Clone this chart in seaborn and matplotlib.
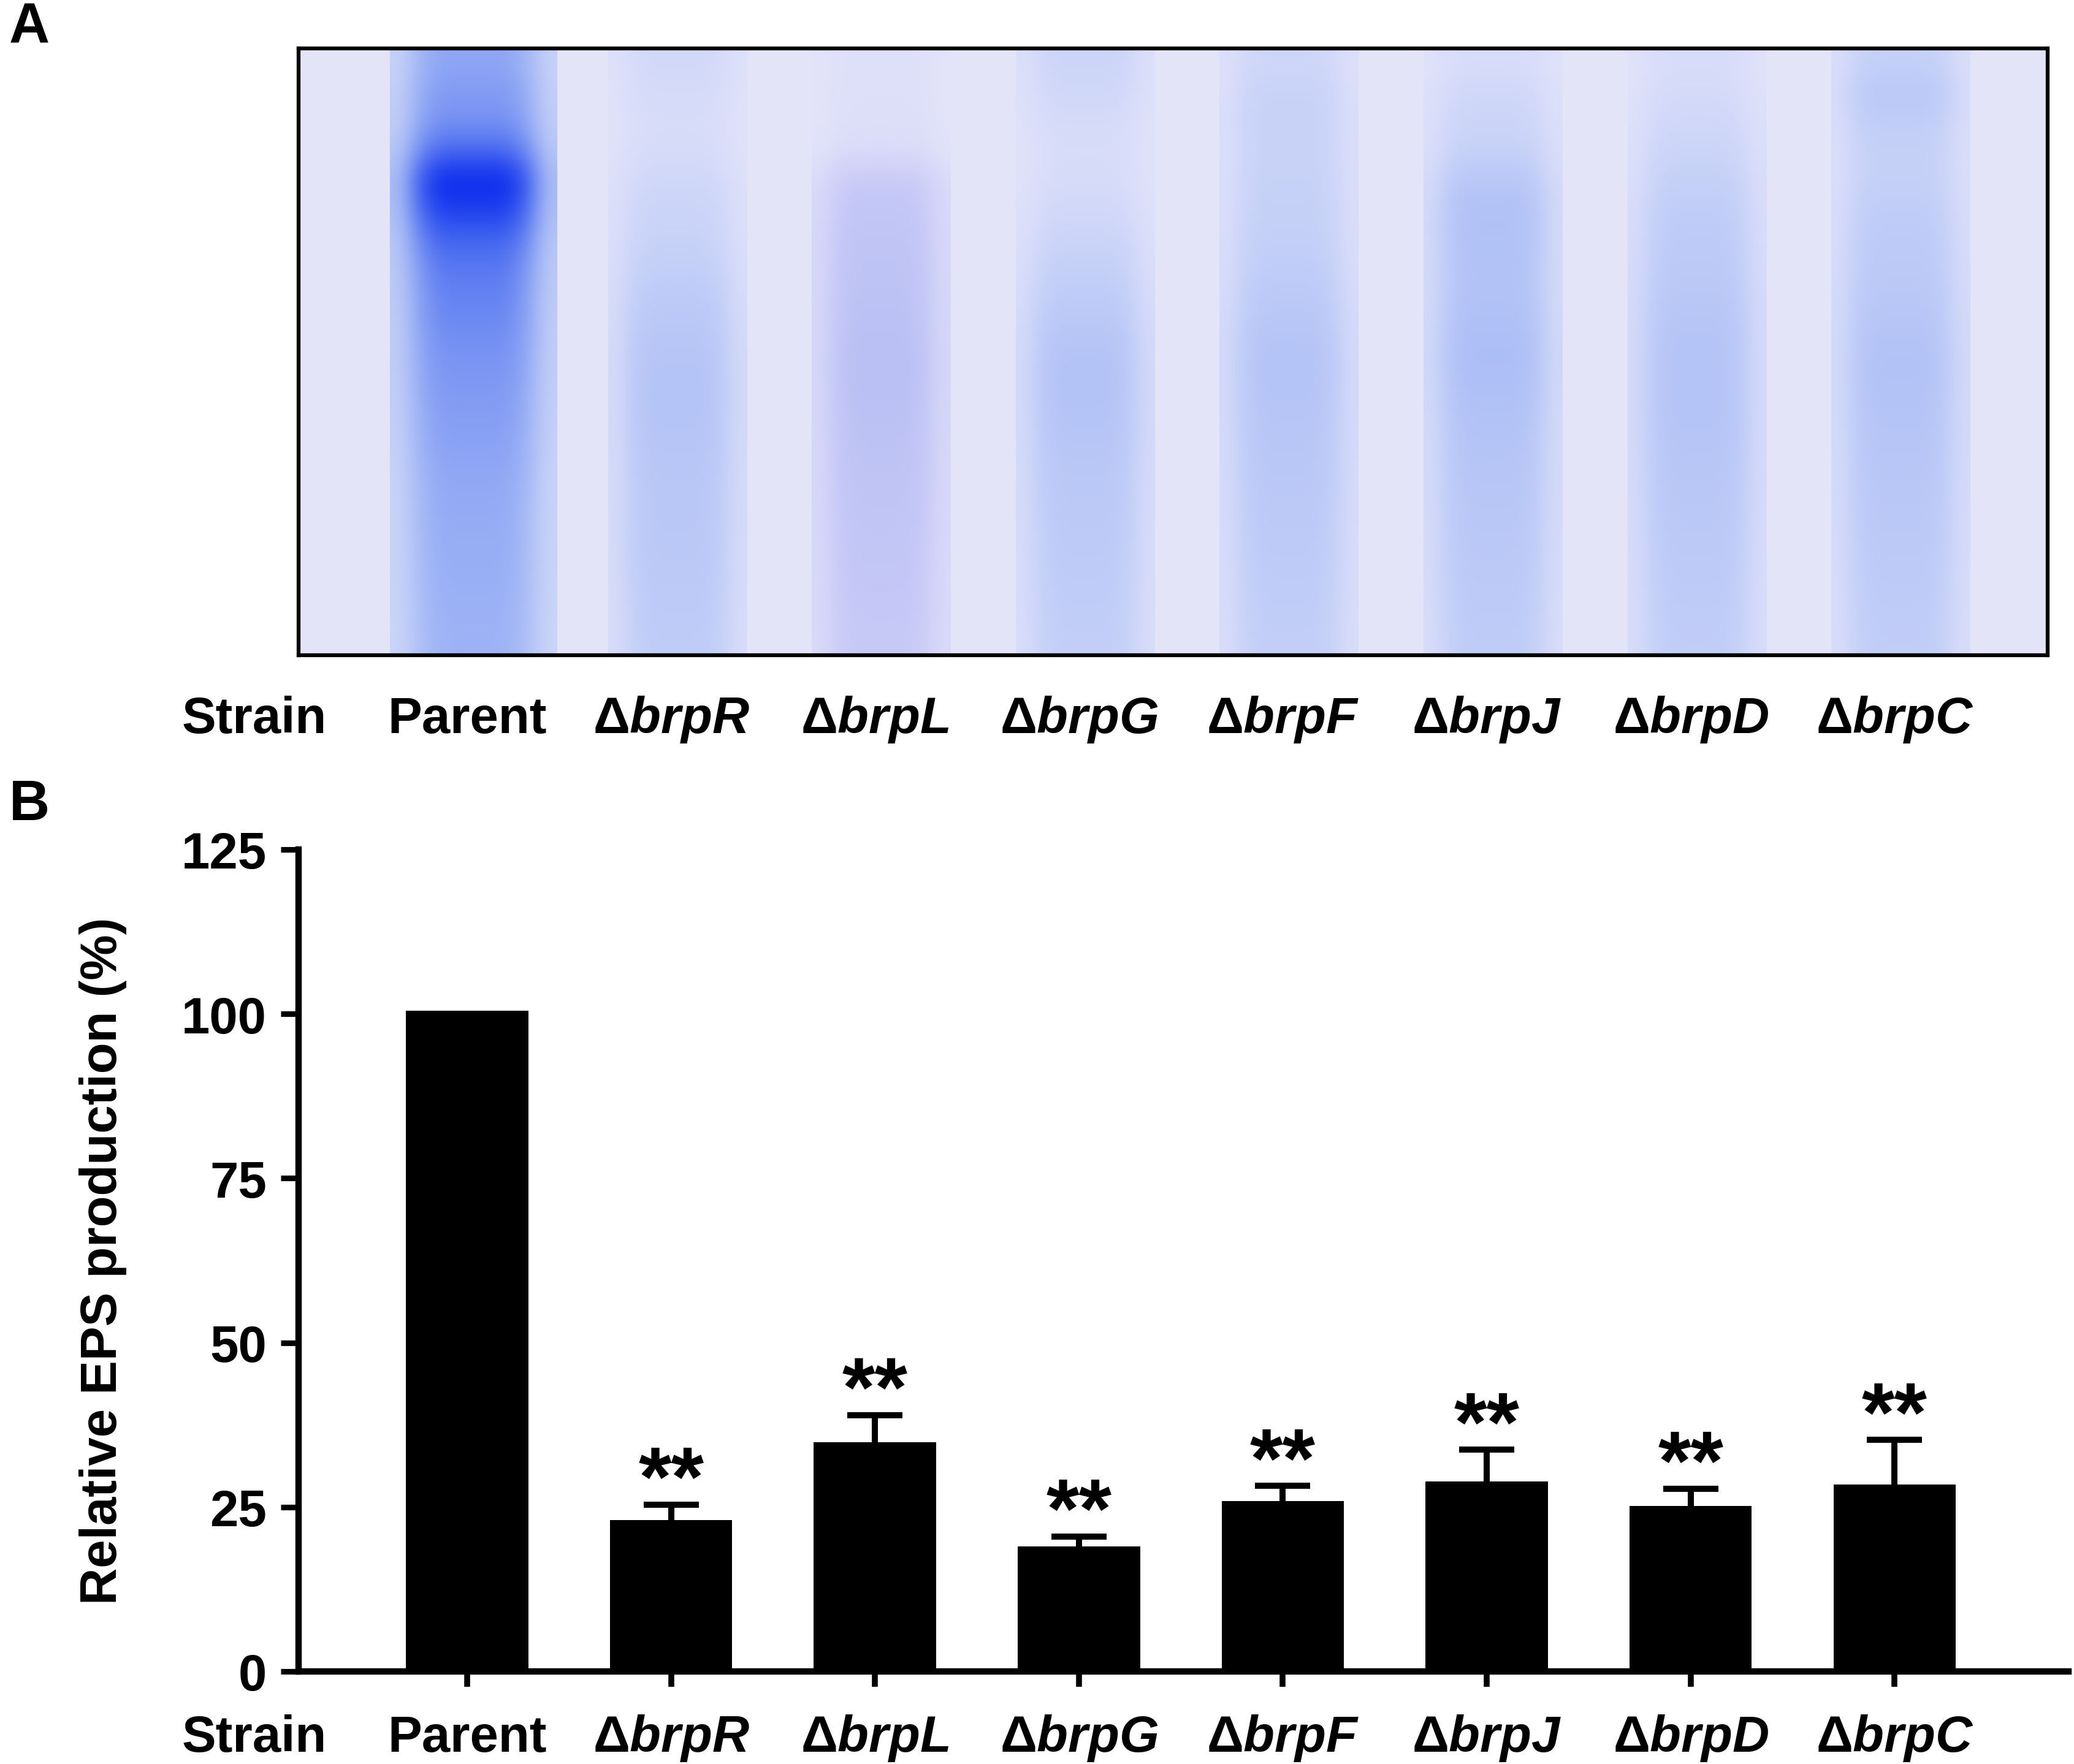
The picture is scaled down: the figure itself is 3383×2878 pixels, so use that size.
import numpy as np
import pandas as pd
import matplotlib
matplotlib.use("Agg")
import matplotlib.pyplot as plt
import seaborn as sns
from matplotlib.colors import LinearSegmentedColormap
from matplotlib.transforms import blended_transform_factory

# ---------------- data ----------------
strains = ["Parent", "ΔbrpR", "ΔbrpL", "ΔbrpG", "ΔbrpF", "ΔbrpJ", "ΔbrpD", "ΔbrpC"]
eps_mean = [100.5, 23.0, 34.9, 19.0, 25.9, 28.9, 25.2, 28.4]
eps_sem = [0.0, 2.4, 4.1, 1.5, 2.3, 4.8, 2.6, 6.8]
significance = ["", "**", "**", "**", "**", "**", "**", "**"]
y_ticks = [0, 25, 50, 75, 100, 125]
y_title = "Relative EPS production (%)"
row_title = "Strain"

# gel lane staining intensity (0 = background, 1 = darkest), top -> bottom of gel
gel_parent = [0.52, 0.58, 0.62, 0.76, 1.00, 0.93, 0.80, 0.72, 0.68, 0.65, 0.62,
              0.60, 0.57, 0.55, 0.52, 0.50, 0.49, 0.48, 0.47, 0.46, 0.45]
gel_brpR = [0.14, 0.12, 0.10, 0.11, 0.15, 0.18, 0.20, 0.23, 0.27, 0.30, 0.32,
            0.33, 0.33, 0.32, 0.31, 0.30, 0.30, 0.29, 0.28, 0.27, 0.26]
gel_brpL = [0.06, 0.06, 0.07, 0.08, 0.24, 0.28, 0.30, 0.31, 0.32, 0.33, 0.34,
            0.34, 0.33, 0.32, 0.31, 0.30, 0.29, 0.28, 0.27, 0.26, 0.25]
gel_brpG = [0.18, 0.15, 0.12, 0.10, 0.11, 0.14, 0.18, 0.22, 0.26, 0.30, 0.33,
            0.34, 0.33, 0.32, 0.30, 0.29, 0.28, 0.27, 0.26, 0.25, 0.24]
gel_brpF = [0.16, 0.20, 0.21, 0.20, 0.21, 0.22, 0.23, 0.25, 0.28, 0.31, 0.33,
            0.33, 0.32, 0.31, 0.30, 0.29, 0.28, 0.27, 0.26, 0.25, 0.24]
gel_brpJ = [0.10, 0.15, 0.18, 0.21, 0.30, 0.35, 0.35, 0.34, 0.34, 0.36, 0.38,
            0.37, 0.35, 0.33, 0.32, 0.31, 0.30, 0.29, 0.28, 0.27, 0.26]
gel_brpD = [0.10, 0.12, 0.15, 0.18, 0.22, 0.25, 0.27, 0.28, 0.30, 0.32, 0.33,
            0.33, 0.33, 0.32, 0.31, 0.30, 0.29, 0.28, 0.27, 0.26, 0.25]
gel_brpC = [0.22, 0.30, 0.25, 0.22, 0.22, 0.25, 0.27, 0.28, 0.30, 0.32, 0.34,
            0.34, 0.33, 0.32, 0.31, 0.30, 0.29, 0.28, 0.27, 0.26, 0.25]
gel_lanes = [gel_parent, gel_brpR, gel_brpL, gel_brpG, gel_brpF, gel_brpJ, gel_brpD, gel_brpC]
gel_tint = ["blue", "blue", "violet", "blue", "blue", "blue", "blue", "blue"]


def display_label(name):
    if name.startswith("Δ"):
        return "Δ$\\mathit{" + name[1:] + "}$"
    return name


# ---------------- style ----------------
sns.set_theme(style="ticks")
plt.rcParams["font.family"] = ["Liberation Sans", "DejaVu Sans"]
plt.rcParams["font.weight"] = "bold"
plt.rcParams["mathtext.fontset"] = "custom"
plt.rcParams["mathtext.it"] = "Liberation Sans:italic:bold"
plt.rcParams["mathtext.rm"] = "Liberation Sans:bold"
plt.rcParams["mathtext.bf"] = "Liberation Sans:bold"
plt.rcParams["axes.edgecolor"] = "black"
plt.rcParams["xtick.color"] = "black"
plt.rcParams["ytick.color"] = "black"
plt.rcParams["text.color"] = "black"
plt.rcParams["axes.labelcolor"] = "black"

W, H = 3383, 2879
fig = plt.figure(figsize=(W / 300, H / 300), dpi=300)
fig.patch.set_facecolor("white")

label_fs = 20

# ---------------- panel A : gel ----------------
ax_gel = fig.add_axes([487 / W, 1 - 1070 / H, (3340 - 487) / W, 990 / H])
ax_gel.set_facecolor("#E4E4F9")
cmaps = {
    "blue": LinearSegmentedColormap.from_list(
        "gel", ["#E6E6FA", "#C9D3F8", "#A9BCF6", "#7E98F3", "#3F63F0", "#0A28EE"]),
    "violet": LinearSegmentedColormap.from_list(
        "gelv", ["#E6E6FA", "#CDCFF7", "#B3BAF4", "#8A98F1", "#4A62EE", "#0A28EE"]),
}
for i, prof in enumerate(gel_lanes):
    col = np.array(prof)
    img = np.column_stack([col * 0.4, col * 0.85, col, col, col, col, col * 0.85, col * 0.4])
    hw = 0.41 if i == 0 else 0.34
    c = i + 0.03
    ax_gel.imshow(cmaps[gel_tint[i]](img)[..., :3], extent=(c - hw, c + hw, 1, 0),
                  aspect="auto", interpolation="bicubic")
ax_gel.set_xlim(-0.827, 7.751)
ax_gel.set_ylim(1, 0)
ax_gel.set_xticks([])
ax_gel.set_yticks([])
for s in ax_gel.spines.values():
    s.set_visible(True)
    s.set_linewidth(1.5)
    s.set_color("black")

tr_gel = blended_transform_factory(ax_gel.transData, ax_gel.transAxes)
ax_gel.text(-1.044, -0.1273, row_title, transform=tr_gel, ha="center", va="baseline",
            fontsize=label_fs, fontweight="bold")
for i, name in enumerate(strains):
    ax_gel.text(i, -0.1273, display_label(name), transform=tr_gel, ha="center",
                va="baseline", fontsize=label_fs, fontweight="bold")

# ---------------- panel B : bars ----------------
ax = fig.add_axes([487 / W, 1 - 2728 / H, (3374 - 487) / W, (2728 - 1387) / H])
df = pd.DataFrame({"strain": strains, "eps": eps_mean})
sns.barplot(data=df, x="strain", y="eps", order=strains, color="black", saturation=1,
            width=0.6, errorbar=None, linewidth=0, ax=ax, zorder=2)

xi = np.arange(len(strains))
means = np.array(eps_mean)
sems = np.array(eps_sem)
ax.errorbar(xi[1:], means[1:], yerr=[means[1:], sems[1:]],
            fmt="none", ecolor="black", elinewidth=2.4, capsize=10.8, capthick=2.4, zorder=1)
for i in range(len(strains)):
    if significance[i]:
        ax.text(i, eps_mean[i] + eps_sem[i] - 0.1, significance[i], ha="center",
                va="baseline", fontsize=33, fontweight="bold")

ax.set_ylim(0, 125)
ax.set_xlim(-0.827, 7.853)
ax.set_yticks(y_ticks)
ax.set_yticklabels([str(t) for t in y_ticks], fontsize=label_fs, fontweight="bold")
ax.set_xticks(xi)
ax.set_xticklabels([""] * len(strains))
ax.set_xlabel("")
ax.set_ylabel(y_title, fontsize=label_fs, fontweight="bold", va="center")
ax.yaxis.set_label_coords((168 - 487) / (3374 - 487), 0.5)
sns.despine(ax=ax)
ax.spines["left"].set_linewidth(2.5)
ax.spines["bottom"].set_linewidth(2.5)
ax.spines["left"].set_zorder(3)
ax.spines["bottom"].set_zorder(3)
ax.tick_params(axis="y", direction="out", length=7, width=2.2, pad=5.5, colors="black")
ax.tick_params(axis="x", direction="out", length=6, width=2.3, colors="black")
ax.set_facecolor("white")

tr_bar = blended_transform_factory(ax.transData, ax.transAxes)
ax.text(-1.044, -0.0969, row_title, transform=tr_bar, ha="center", va="baseline",
        fontsize=label_fs, fontweight="bold", clip_on=False)
for i, name in enumerate(strains):
    ax.text(i, -0.0969, display_label(name), transform=tr_bar, ha="center",
            va="baseline", fontsize=label_fs, fontweight="bold", clip_on=False)

# panel letters
fig.text(15 / W, 1 - 69 / H, "A", fontsize=22, fontweight="bold", ha="left", va="baseline")
fig.text(15 / W, 1 - 1338 / H, "B", fontsize=22, fontweight="bold", ha="left", va="baseline")

fig.savefig("out.png", dpi=300, facecolor="white")
